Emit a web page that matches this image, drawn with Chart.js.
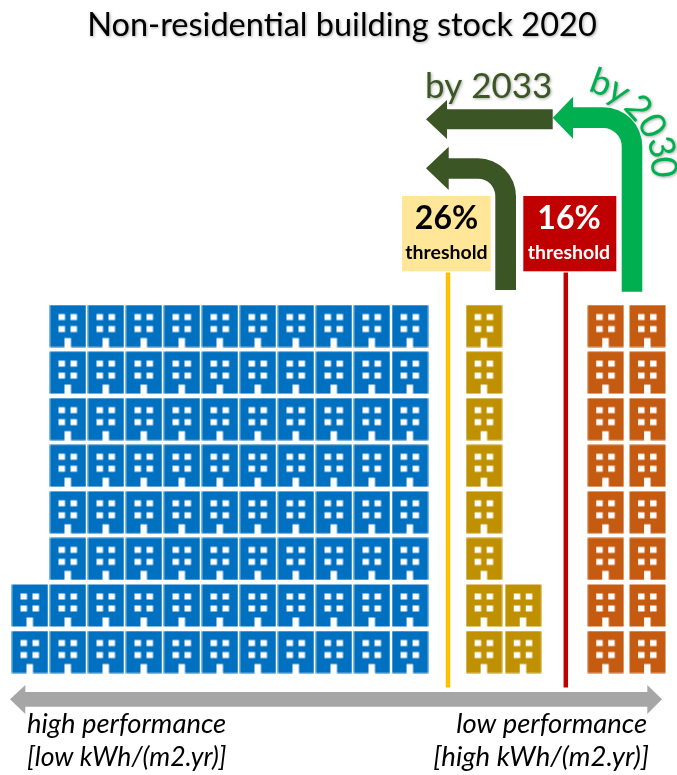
<!DOCTYPE html>
<html><head><meta charset="utf-8">
<style>html,body{margin:0;padding:0;background:#fff}canvas{display:block}</style>
<script src="https://cdn.jsdelivr.net/npm/chart.js@4/dist/chart.umd.js"></script>
</head><body>
<div style="width:677px;height:775px"><canvas id="c" width="677" height="775"></canvas></div>
<script>
const chartTitle = "Non-residential building stock 2020";
// building columns (column position) and number of buildings stacked in each
const highColumns = [0,1,2,3,4,5,6,7,8,9,10];
const highCounts  = [2,8,8,8,8,8,8,8,8,8,8];
const midColumns  = [11.95,12.98];
const midCounts   = [8,2];
const lowColumns  = [15.15,16.25];
const lowCounts   = [8,8];
// thresholds on the column axis, with the row span of their marker lines
const threshold26 = 11.0;
const threshold16 = 14.1;
const thresholdSpan = [-0.76,8.15];
const labelLeft  = ["high performance","[low kWh/(m2.yr)]"];
const labelRight = ["low performance","[high kWh/(m2.yr)]"];
const by2033 = "by 2033";
const by2030 = "by 2030";
const thresholdWord = "threshold";
const pct26 = "26%";
const pct16 = "16%";

const BLUE='#0070C0',GOLD='#BF9000',ORANGE='#C55A11',DARK='#3B5525',GREEN='#00B050',RED='#C00000',YEL='#FFC000',BOX='#FFE699',GRAY='#A6A6A6';
const FONT='Lato, "Open Sans", sans-serif';

function icon(col){
  const c=document.createElement('canvas');c.width=37;c.height=43;
  const g=c.getContext('2d');
  g.fillStyle=col;g.fillRect(.5,.5,36,42);
  g.fillStyle='#fff';
  for(const wy of [9.5,21.5]) for(const wx of [9,21]) g.fillRect(wx,wy,6.5,6);
  g.fillRect(15,33.5,6.5,10);
  return c;
}
function pts(cols,counts){
  const out=[];
  cols.forEach((x,i)=>{for(let r=0;r<counts[i];r++)out.push({x,y:r});});
  return out;
}
function arrowPath(ctx,o){
  // bent or straight block arrow pointing left
  ctx.beginPath();
  ctx.moveTo(o.tip,o.cy);
  ctx.lineTo(o.hb,o.ht);ctx.lineTo(o.hb,o.st);
  if(o.vr){
    const R=o.vr-o.hb>0?o.R:0;
    ctx.lineTo(o.vr-R,o.st);
    ctx.arcTo(o.vr,o.st,o.vr,o.st+R,R);
    ctx.lineTo(o.vr,o.end);
    ctx.lineTo(o.vl,o.end);
    const r=R-(o.vr-o.vl);
    ctx.lineTo(o.vl,o.sb+r);
    ctx.arcTo(o.vl,o.sb,o.vl-r,o.sb,r);
  }else{
    ctx.lineTo(o.end,o.st);ctx.lineTo(o.end,o.sb);
  }
  ctx.lineTo(o.hb,o.sb);ctx.lineTo(o.hb,o.hbm);ctx.closePath();
}
const shadowOn=ctx=>{ctx.shadowColor='rgba(0,0,0,.35)';ctx.shadowBlur=3;ctx.shadowOffsetX=1;ctx.shadowOffsetY=1;};
const shadowOff=ctx=>{ctx.shadowColor='transparent';ctx.shadowBlur=0;ctx.shadowOffsetX=0;ctx.shadowOffsetY=0;};

const decor={
  id:'decor',
  beforeDraw(ch){const c=ch.ctx;c.save();c.translate(3.5,0);shadowOn(c);},
  beforeDatasetsDraw(ch){ch.ctx.restore();},
  afterDraw(ch){
    const c=ch.ctx;c.save();
    // grey performance axis
    c.fillStyle=GRAY;c.beginPath();
    c.moveTo(10,699.3);c.lineTo(25.3,685);c.lineTo(25.3,692);c.lineTo(647.3,692);c.lineTo(647.3,685);
    c.lineTo(662,699.3);c.lineTo(647.3,714);c.lineTo(647.3,706.7);c.lineTo(25.3,706.7);c.lineTo(25.3,714);c.closePath();c.fill();
    // arrows
    c.fillStyle=GREEN;
    arrowPath(c,{tip:552.7,cy:117.7,hb:573,ht:96.7,hbm:138.7,st:107.3,sb:128,vr:642.3,vl:621.7,end:291.7,R:39});c.fill();
    c.fillStyle=DARK;
    arrowPath(c,{tip:426,cy:119.3,hb:447,ht:100,hbm:139,st:109.3,sb:129.3,end:552.7});c.fill();
    arrowPath(c,{tip:426,cy:168.3,hb:448.7,ht:146.7,hbm:190,st:158.3,sb:178.7,vr:516,vl:495.3,end:290,R:38});c.fill();
    // threshold boxes
    c.fillStyle=BOX;c.fillRect(402,196,88.7,75.3);
    c.fillStyle=RED;c.fillRect(523.3,196,93,75.3);
    c.textAlign='center';c.textBaseline='alphabetic';
    c.fillStyle='#000';c.font='bold 32px '+FONT;c.fillText(pct26,446.5,229);
    c.font='bold 19.5px '+FONT;c.fillText(thresholdWord,446.5,258.5);
    c.fillStyle='#fff';c.font='bold 32px '+FONT;c.fillText(pct16,569,229);
    c.font='bold 19.5px '+FONT;c.fillText(thresholdWord,569,258.5);
    // by 2033
    shadowOn(c);
    c.fillStyle=DARK;c.font='35px '+FONT;c.textAlign='left';c.fillText(by2033,425,98);
    // by 2030 following the bend
    c.fillStyle=GREEN;c.textAlign='center';c.textBaseline='middle';
    const glyphs=[['b',601,83,20],['y',619,91,32],['2',638,108,48],['0',652,126,62],['3',661,147,76],['0',663,167,86]];
    glyphs.forEach(([t,x,y,a])=>{c.save();c.translate(x,y);c.rotate(a*Math.PI/180);c.font='36px '+FONT;c.fillText(t,0,0);c.restore();});
    shadowOff(c);
    // bottom labels
    c.fillStyle='#000';c.textBaseline='alphabetic';
    c.textAlign='left';c.font='italic 27.4px '+FONT;c.fillText(labelLeft[0],27,733);
    c.font='italic 26.6px '+FONT;c.fillText(labelLeft[1],27,766);
    c.textAlign='right';c.font='italic 27.4px '+FONT;c.fillText(labelRight[0],647,733);
    c.font='italic 27.6px '+FONT;c.fillText(labelRight[1],649,766);
    c.restore();
  }
};

const lineDs=(label,x,col)=>({type:'scatter',label,showLine:true,data:[{x,y:thresholdSpan[0]},{x,y:thresholdSpan[1]}],borderColor:col,borderWidth:4.5,pointRadius:0,fill:false});
const ptDs=(label,cols,counts,col)=>({label,data:pts(cols,counts),pointStyle:icon(col),pointRadius:18,showLine:false});

new Chart(document.getElementById('c'),{
  type:'scatter',
  data:{datasets:[
    lineDs('26% threshold',threshold26,YEL),
    lineDs('16% threshold',threshold16,RED),
    ptDs('High performance',highColumns,highCounts,BLUE),
    ptDs('Medium',midColumns,midCounts,GOLD),
    ptDs('Low performance',lowColumns,lowCounts,ORANGE)
  ]},
  options:{
    responsive:false,animation:false,devicePixelRatio:1,
    layout:{padding:0,autoPadding:false},
    plugins:{
      legend:{display:false},tooltip:{enabled:false},
      title:{display:true,text:chartTitle,color:'#000',font:{family:FONT,size:32.5,weight:'normal',lineHeight:1.2},padding:{top:6.5,bottom:6.5}}
    },
    scales:{
      x:{type:'linear',display:false,min:-0.789,max:17.026},
      y:{type:'linear',display:false,min:-2.641,max:12.884}
    }
  },
  plugins:[decor]
});
</script>
</body></html>
